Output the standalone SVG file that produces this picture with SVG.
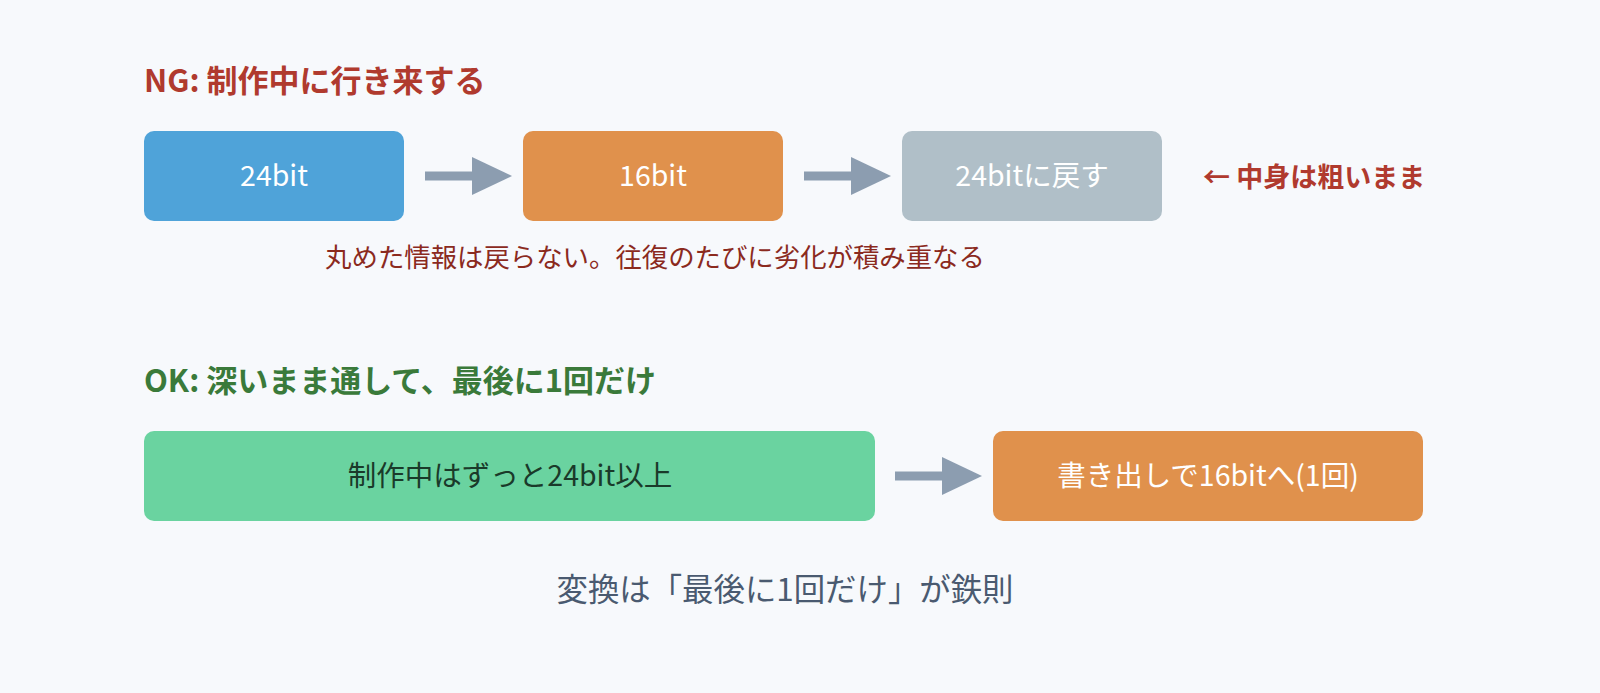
<svg xmlns="http://www.w3.org/2000/svg" width="1600" height="693" viewBox="0 0 1600 693">
<style>
text{font-family:"Noto Sans CJK JP","Noto Sans",sans-serif}
.box{font-size:28.5px;fill:#fff;text-anchor:middle}
.arr{stroke:#8c9db0;stroke-width:9;fill:none}
.head{fill:#8c9db0}
</style>
<rect width="1600" height="693" fill="#f7f9fc"/>
<text x="144" y="92" font-size="31" font-weight="bold" fill="#b03a2e">NG: 制作中に行き来する</text>
<g id="n1"><rect x="144" y="131" width="260" height="90" rx="10" fill="#4fa3d9"/><text class="box" x="274" y="186">24bit</text></g>
<g id="n2"><rect x="523" y="131" width="260" height="90" rx="10" fill="#e0914c"/><text class="box" x="653" y="186">16bit</text></g>
<g id="n3"><rect x="902" y="131" width="260" height="90" rx="10" fill="#b0bfc8"/><text class="box" x="1032" y="186">24bitに戻す</text></g>
<text x="1203" y="187" font-size="27" font-weight="bold" fill="#b03a2e">← 中身は粗いまま</text>
<text x="655" y="267" font-size="26.4" fill="#8b2a1e" text-anchor="middle">丸めた情報は戻らない。往復のたびに劣化が積み重なる</text>
<text x="144" y="392" font-size="31" font-weight="bold" fill="#3a7a3a">OK: 深いまま通して、最後に1回だけ</text>
<g id="n4"><rect x="144" y="431" width="731" height="90" rx="10" fill="#6ad3a0"/><text class="box" x="510" y="486" style="fill:#1a3a2a">制作中はずっと24bit以上</text></g>
<g id="n5"><rect x="993" y="431" width="430" height="90" rx="10" fill="#e0914c"/><text class="box" x="1208" y="486">書き出しで16bitへ(1回)</text></g>
<g id="connectors">
<line class="arr" x1="425" y1="176" x2="474" y2="176"/><polygon class="head" points="472,157 512,176 472,195"/>
<line class="arr" x1="804" y1="176" x2="853" y2="176"/><polygon class="head" points="851,157 891,176 851,195"/>
<line class="arr" x1="895" y1="476" x2="944" y2="476"/><polygon class="head" points="942,457 982,476 942,495"/>
</g>
<text x="785" y="601" font-size="31.4" fill="#4a5a70" text-anchor="middle">変換は「最後に1回だけ」が鉄則</text>
</svg>
